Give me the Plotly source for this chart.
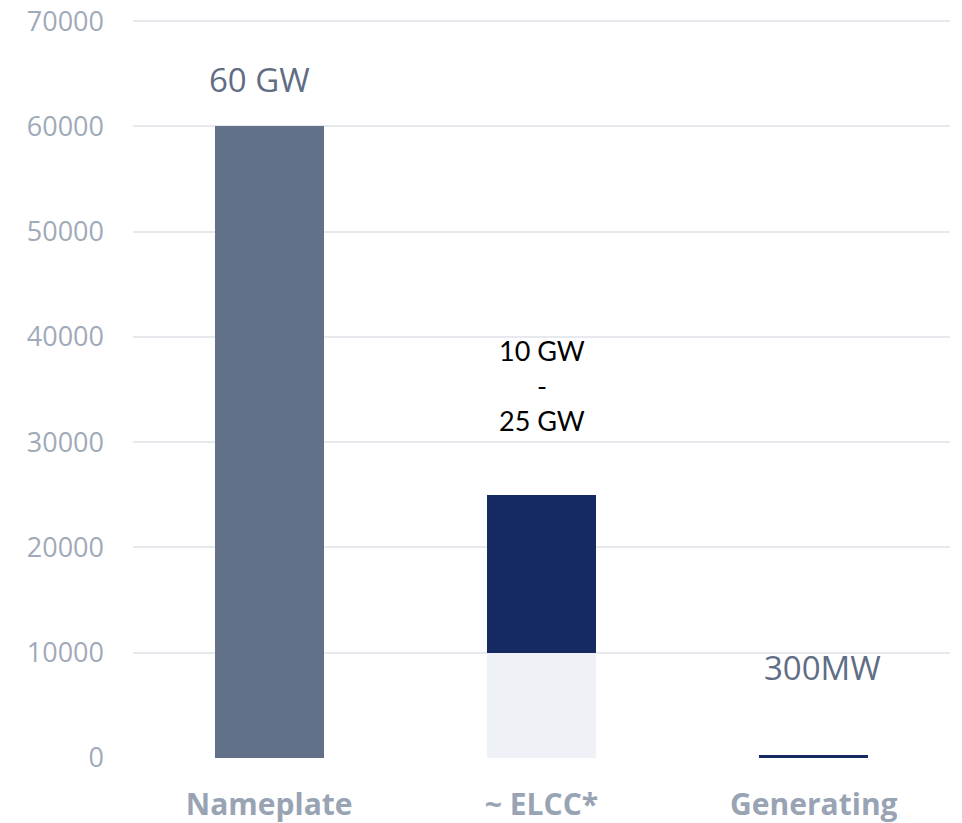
import plotly.graph_objects as go

categories = ["Nameplate", "~ ELCC*", "Generating"]
base_values = [60000, 10000, 300]
upper_values = [0, 15000, 0]
label_texts = ["60 GW", "10 GW<br>-<br>25 GW", "300MW"]
y_ticks = [0, 10000, 20000, 30000, 40000, 50000, 60000, 70000]

base_colors = ["#627089", "#eef2f6", "#162a62"]
label_colors = ["#5f6d85", "#000000", "#5f6d85"]
label_fonts = ["Open Sans", "Lato", "Open Sans"]
label_sizes = [33, 27, 33]
label_shifts = [22, 56, 63]
label_xshifts = [-10, 0, 9]

fig = go.Figure()
fig.add_trace(go.Bar(x=categories, y=base_values, marker=dict(color=base_colors, line=dict(width=0)),
                     hoverinfo="skip", showlegend=False))
fig.add_trace(go.Bar(x=categories, y=upper_values, marker=dict(color="#162a62", line=dict(width=0)),
                     hoverinfo="skip", showlegend=False))

totals = [b + u for b, u in zip(base_values, upper_values)]
for cat, tot, txt, col, fnt, sz, sh, xs in zip(categories, totals, label_texts, label_colors,
                                               label_fonts, label_sizes, label_shifts, label_xshifts):
    fig.add_annotation(x=cat, y=tot, text=txt, showarrow=False, yanchor="bottom",
                       yshift=sh, xshift=xs, font=dict(family=fnt, size=sz, color=col),
                       align="center")

fig.update_layout(
    width=962, height=823,
    margin=dict(l=125, r=20, t=12, b=73),
    paper_bgcolor="white", plot_bgcolor="white",
    barmode="stack", bargap=0.6,
    xaxis=dict(tickfont=dict(family="Open Sans", size=30, color="#98a3b4", weight="bold"),
               showgrid=False, showline=False, ticks="", automargin=False,
               ticklabelstandoff=26),
    yaxis=dict(range=[0, 70100], tickvals=y_ticks, tickformat="d",
               tickfont=dict(family="Open Sans", size=27, color="#a0aab9"),
               gridcolor="#e6e9ee", gridwidth=2, zeroline=False, showline=False,
               ticks="", ticklabelstandoff=28, automargin=False,
               ticklabeloverflow="allow"),
)
fig.write_html("out.html")
